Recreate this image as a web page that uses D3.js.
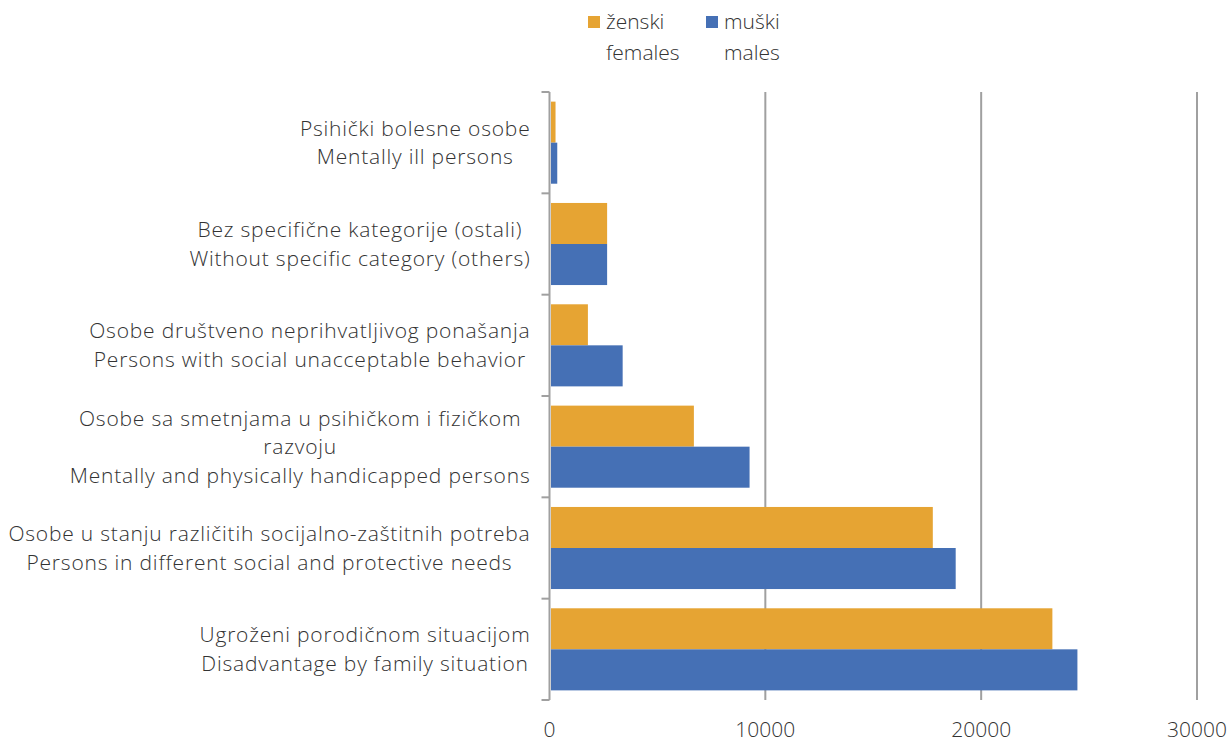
<!DOCTYPE html>
<html>
<head>
<meta charset="utf-8">
<script src="https://cdn.jsdelivr.net/npm/d3@7"></script>
<style>
  body { margin: 0; background: #fff; }
  text { font-family: "Open Sans", "Noto Sans", sans-serif; font-weight: 300; fill: #333; }
</style>
</head>
<body>
<svg id="chart"></svg>
<script>
// Datos
const categories = [
    ["Psihički bolesne osobe", "Mentally ill persons"],
    ["Bez specifične kategorije (ostali)", "Without specific category (others)"],
    ["Osobe društveno neprihvatljivog ponašanja", "Persons with social unacceptable behavior"],
    ["Osobe sa smetnjama u psihičkom i fizičkom", "razvoju", "Mentally and physically handicapped persons"],
    ["Osobe u stanju različitih socijalno-zaštitnih potreba", "Persons in different social and protective needs"],
    ["Ugroženi porodičnom situacijom", "Disadvantage by family situation"]
];
const females = [210, 2600, 1710, 6620, 17690, 23230];
const males = [290, 2600, 3320, 9200, 18750, 24390];
const seriesNames = [["ženski", "females"], ["muški", "males"]];
const xTicks = [0, 10000, 20000, 30000];

const colors = ["#E6A433", "#4570B5"];

const W = 1231, H = 742;
const margin = { top: 92, right: 34, bottom: 42, left: 549.5 };
const width = W - margin.left - margin.right;
const height = H - margin.top - margin.bottom;
const fontSize = "21px";

const svg = d3.select("#chart").attr("width", W).attr("height", H);
const g = svg.append("g").attr("transform", `translate(${margin.left},${margin.top})`);

// Escalas
const xScale = d3.scaleLinear().domain([0, 30000]).range([0, 647.5]);
const yScale = d3.scaleBand().domain(d3.range(categories.length)).range([0, height])
    .paddingInner(0.19).paddingOuter(0.095);
const ySub = d3.scaleBand().domain([0, 1]).range([0, yScale.bandwidth()]);

// Líneas de cuadrícula
g.selectAll(".grid").data(xTicks.slice(1)).enter().append("line")
    .attr("x1", d => xScale(d)).attr("x2", d => xScale(d))
    .attr("y1", 0).attr("y2", height)
    .attr("stroke", "#a0a0a0").attr("stroke-width", 2);

// Barras
const rows = g.selectAll(".row").data(categories).enter().append("g")
    .attr("transform", (d, i) => `translate(0,${yScale(i)})`);

rows.append("rect")
    .attr("x", 1.5).attr("y", ySub(0))
    .attr("width", (d, i) => xScale(females[i]))
    .attr("height", ySub.bandwidth())
    .attr("fill", colors[0]);

rows.append("rect")
    .attr("x", 1.5).attr("y", ySub(1))
    .attr("width", (d, i) => xScale(males[i]))
    .attr("height", ySub.bandwidth())
    .attr("fill", colors[1]);

// Eje vertical
g.append("line").attr("x1", 0).attr("x2", 0).attr("y1", 0).attr("y2", height)
    .attr("stroke", "#a0a0a0").attr("stroke-width", 2);
const step = height / categories.length;
g.selectAll(".ytick").data(d3.range(categories.length + 1)).enter().append("line")
    .attr("x1", -8).attr("x2", 0)
    .attr("y1", d => d * step).attr("y2", d => d * step)
    .attr("stroke", "#a0a0a0").attr("stroke-width", 2);

// Etiquetas de categorías
const lineH = 28.5;
rows.each(function (lines, i) {
    const lg = d3.select(this).append("g");
    const cy = yScale.bandwidth() / 2;
    const texts = lg.selectAll("text").data(lines).enter().append("text")
        .attr("y", (d, k) => cy + (k - (lines.length - 1) / 2) * lineH)
        .attr("dy", "0.35em")
        .attr("text-anchor", "middle")
        .style("font-size", fontSize)
        .style("letter-spacing", "0.8px")
        .text(d => d);
    let maxW = 0;
    texts.each(function () { maxW = Math.max(maxW, this.getComputedTextLength()); });
    texts.attr("x", -19 - maxW / 2);
});

// Etiquetas del eje X
g.selectAll(".xlabel").data(xTicks).enter().append("text")
    .attr("x", d => xScale(d)).attr("y", height + 30)
    .attr("dy", "0.35em")
    .attr("text-anchor", "middle")
    .style("font-size", fontSize)
    .text(d => d);

// Leyenda
const legendX = [588, 706];
seriesNames.forEach((names, i) => {
    const lg = svg.append("g").attr("transform", `translate(${legendX[i]},0)`);
    lg.append("rect").attr("x", 0).attr("y", 16).attr("width", 12).attr("height", 12)
        .attr("fill", colors[i]);
    names.forEach((t, k) => {
        lg.append("text").attr("x", 18).attr("y", 22 + k * 31).attr("dy", "0.35em")
            .style("font-size", fontSize).text(t);
    });
});
</script>
</body>
</html>
